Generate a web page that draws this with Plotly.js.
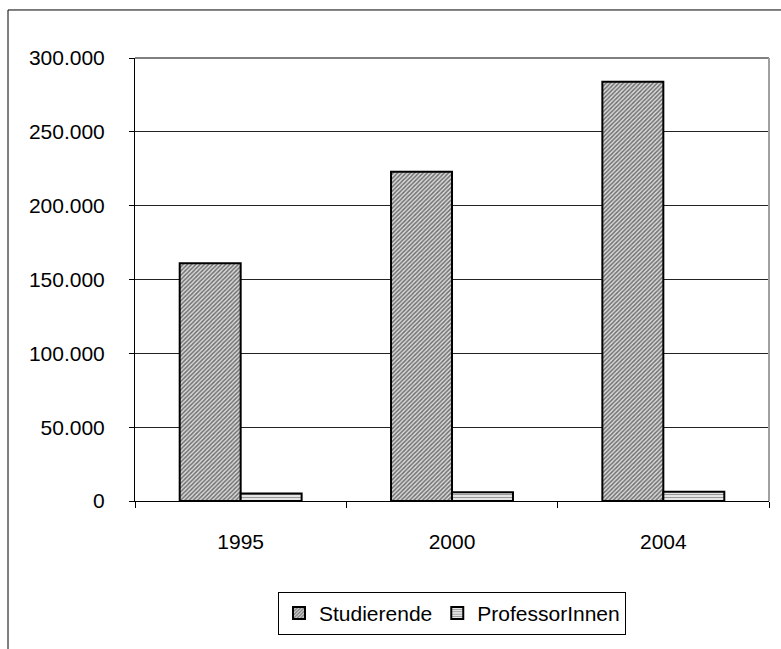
<!DOCTYPE html>
<html>
<head>
<meta charset="utf-8">
<script src="https://cdn.plot.ly/plotly-3.0.1.min.js"></script>
<style>html,body{margin:0;padding:0;background:#fff;}#chart{width:781px;height:649px;}</style>
</head>
<body>
<div id="chart"></div>
<script>
const years = ['1995', '2000', '2004'];
const studierende = [161000, 223000, 284000];
const professorinnen = [5000, 6000, 6300];
const yTicks = [0, 50000, 100000, 150000, 200000, 250000, 300000];

const traces = [
  {
    type: 'bar', name: 'Studierende', x: years, y: studierende,
    marker: {
      color: '#ffffff',
      line: {color: '#000000', width: 2},
      pattern: {shape: '/', bgcolor: '#dcdcdc', fgcolor: '#707070', size: 3, solidity: 0.5}
    },
    hoverinfo: 'none'
  },
  {
    type: 'bar', name: 'ProfessorInnen', x: years, y: professorinnen,
    marker: {
      color: '#ffffff',
      line: {color: '#000000', width: 2},
      pattern: {shape: '-', bgcolor: '#eeeeee', fgcolor: '#999999', size: 3, solidity: 0.4}
    },
    hoverinfo: 'none'
  }
];

const font = {family: '"Liberation Sans", Arial, sans-serif', size: 21, color: '#000000'};

const layout = {
  width: 781, height: 649,
  margin: {l: 135, r: 12, t: 58, b: 148, pad: 0},
  paper_bgcolor: '#ffffff', plot_bgcolor: '#ffffff',
  font: font,
  separators: ',.',
  barmode: 'group', bargap: 0.423, bargroupgap: 0,
  showlegend: true,
  legend: {
    orientation: 'h', x: 0.5, xanchor: 'center', y: -0.205, yanchor: 'top',
    bordercolor: '#000000', borderwidth: 1, font: font,
    itemwidth: 30, traceorder: 'normal'
  },
  xaxis: {
    type: 'category', range: [-0.5, 2.5],
    tickson: 'boundaries', ticks: 'outside', ticklen: 6, tickcolor: '#000', tickwidth: 1,
    showline: true, linecolor: '#000000', linewidth: 1,
    showgrid: false, zeroline: false,
    ticklabelstandoff: 22, tickfont: font
  },
  yaxis: {
    range: [0, 300000], tickvals: yTicks, tickformat: ',d',
    ticks: 'outside', ticklen: 5, tickcolor: '#000', tickwidth: 1,
    showline: true, linecolor: '#000000', linewidth: 1,
    showgrid: true, gridcolor: '#222222', gridwidth: 1, zeroline: false,
    ticklabelstandoff: 20, tickfont: font
  },
  shapes: [
    {type: 'line', xref: 'paper', yref: 'paper', x0: 0, x1: 1, y0: 1, y1: 1, line: {color: '#808080', width: 2}},
    {type: 'line', xref: 'paper', yref: 'paper', x0: 1, x1: 1, y0: 0, y1: 1, line: {color: '#a0a0a0', width: 2}},
    {type: 'rect', xref: 'paper', yref: 'paper', x0: -0.2003, x1: 1.2, y0: -0.5, y1: 1.1084, line: {color: '#000000', width: 1}, fillcolor: 'rgba(0,0,0,0)', layer: 'below'}
  ]
};

Plotly.newPlot('chart', traces, layout, {displayModeBar: false, staticPlot: true});
</script>
</body>
</html>
